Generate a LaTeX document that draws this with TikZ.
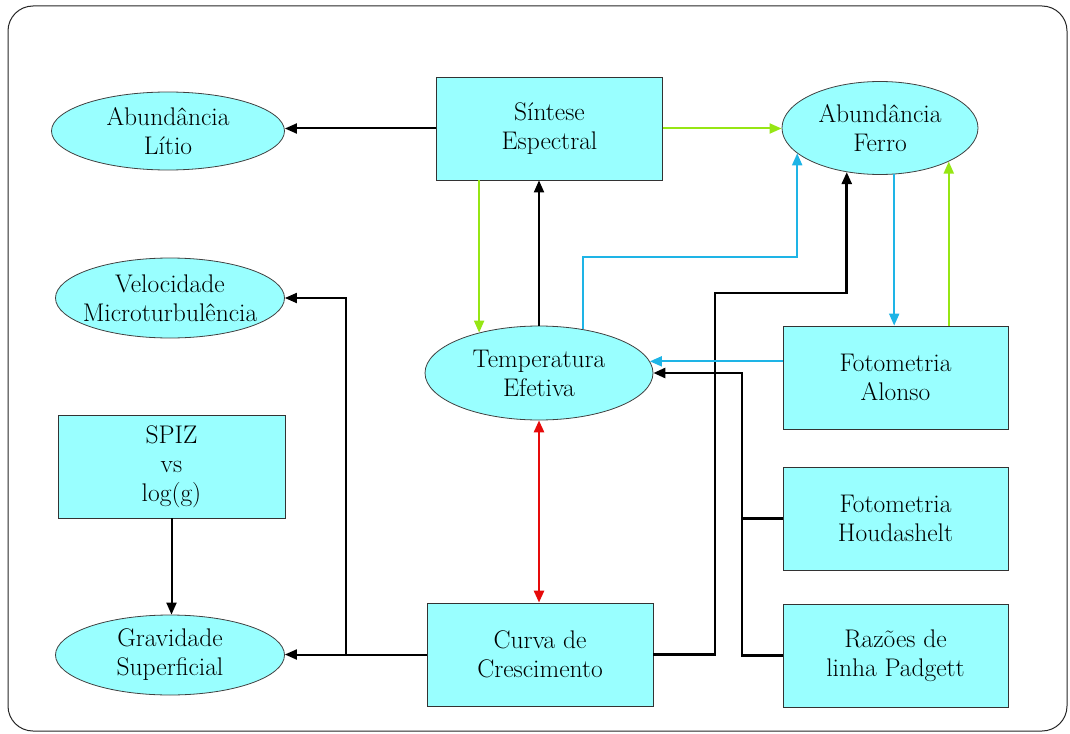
\documentclass[tikz,border=0pt]{standalone}
\usetikzlibrary{shapes.geometric,arrows.meta}
\definecolor{boxfill}{RGB}{153,255,255}
\definecolor{lgreen}{RGB}{150,230,20}
\definecolor{lcyan}{RGB}{30,180,230}
\definecolor{lred}{RGB}{230,10,10}
\tikzset{
  txt/.style={align=center,font=\rmfamily\fontsize{25.5}{29}\selectfont},
  ell/.style={ellipse,draw=black!75,fill=boxfill,inner sep=0pt,line width=0.8pt},
  box/.style={rectangle,draw=black!80,fill=boxfill,inner sep=0pt,line width=0.8pt,
    minimum width=226pt,minimum height=103pt,txt},
  tip/.style={-{Triangle[length=12pt,width=10pt]}},
  blk/.style={draw=black,line width=2pt,tip},
  blkb/.style={draw=black,line width=2.6pt,tip},
  grn/.style={draw=lgreen,line width=2pt,tip},
  cya/.style={draw=lcyan,line width=2pt,tip},
}
\begin{document}
\begin{tikzpicture}[x=1pt,y=-1pt]
\useasboundingbox (0,0) rectangle (1070,733);
\draw[rounded corners=25pt,line width=1pt,black!85] (8,6) rectangle (1067,731);

% nodes
\node[ell,minimum width=233pt,minimum height=78pt,label={[txt]center:Abundância\\Lítio}] (lit) at (168,131) {};
\node[box] (sin) at (549.5,128.5) {Síntese\\Espectral};
\node[ell,minimum width=196pt,minimum height=93pt,label={[txt]center:Abundância\\Ferro}] (fer) at (880,128) {};
\node[ell,minimum width=229pt,minimum height=80pt,label={[txt]center:Velocidade\\Microturbulência}] (vel) at (170,298) {};
\node[ell,minimum width=228pt,minimum height=94pt,label={[txt]center:Temperatura\\Efetiva}] (tem) at (539,373) {};
\node[box,minimum width=225pt] (alo) at (895.5,377.5) {Fotometria\\Alonso};
\node[box,minimum width=227pt] (spz) at (171.5,466.5) {SPIZ\\vs\\log(g)};
\node[box,minimum width=225pt] (hou) at (895.5,518.5) {Fotometria\\Houdashelt};
\node[ell,minimum width=229pt,minimum height=80pt,label={[txt]center:Gravidade\\Superficial}] (gra) at (170,655) {};
\node[box] (cur) at (540,654.5) {Curva de\\Crescimento};
\node[box,minimum width=225pt] (pad) at (895.5,655.5) {Razões de\\linha Padgett};

\coordinate (cy) at (0,257);
\coordinate (ky) at (715,293);
\coordinate (jx) at (742,0);
\coordinate (jy) at (346,0);

% connectors
\draw[blk] (sin.west) -- (sin.west -| lit.east);
\draw[grn] (sin.east) -- (sin.east -| fer.west);
\draw[grn] (tem.146 |- sin.south) -- (tem.146);
\draw[blk] (tem.north) -- (tem.north |- sin.south);
\draw[cya] (tem.45) -- (tem.45 |- cy) -| (fer.197);
\draw[blkb] (cur.east) -| (ky) -| (fer.233);
\draw[cya] (fer.287) -- (fer.287 |- alo.north);
\draw[grn] (fer.334 |- alo.north) -- (fer.334);
\draw[cya] (tem.6 -| alo.west) -- (tem.6);
\draw[blkb] (pad.west) -| (jx |- tem.east) -- (tem.east);
\draw[blkb,-] (hou.west) -- (hou.west -| jx);
\draw[blk] (cur.west) -- (cur.west -| gra.east);
\draw[blk] (cur.west -| jy) |- (vel.east);
\draw[blk] (spz.south) -- (spz.south |- gra.north);
\draw[draw=lred,line width=2.6pt,{Triangle[length=12pt,width=10pt]}-{Triangle[length=12pt,width=10pt]}] (tem.south) -- (tem.south |- cur.north);
\end{tikzpicture}
\end{document}
